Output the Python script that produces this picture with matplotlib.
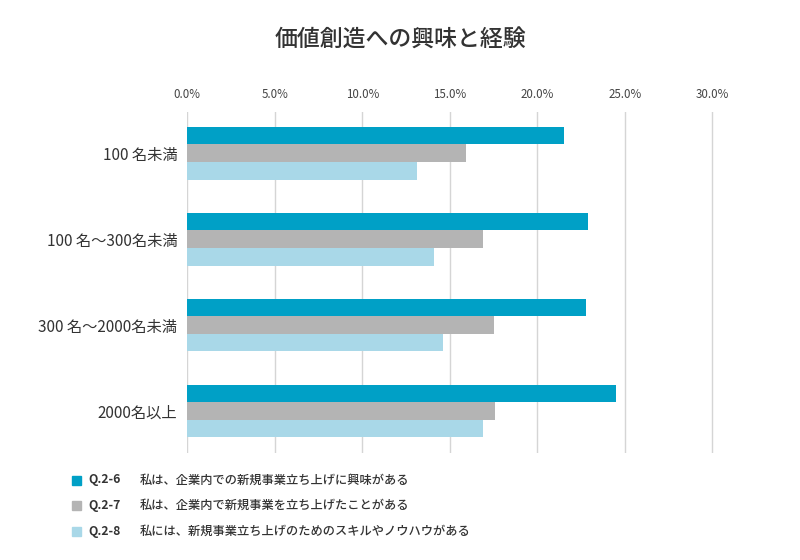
import numpy as np
import matplotlib
matplotlib.use("Agg")
import matplotlib.pyplot as plt
from matplotlib.patches import Rectangle

plt.rcParams['font.family'] = ['Noto Sans CJK JP', 'DejaVu Sans']

# data (%)
categories = ['100 名未満', '100 名～300名未満', '300 名～2000名未満', '2000名以上']
q26 = [21.5, 22.9, 22.8, 24.5]
q27 = [15.9, 16.9, 17.5, 17.6]
q28 = [13.1, 14.1, 14.6, 16.9]
codes = ['Q.2-6', 'Q.2-7', 'Q.2-8']
descriptions = [
    '私は、企業内での新規事業立ち上げに興味がある',
    '私は、企業内で新規事業を立ち上げたことがある',
    '私には、新規事業立ち上げのためのスキルやノウハウがある',
]
colors = ['#00A0C6', '#B4B4B4', '#A9D8E8']
xticks = [0, 5, 10, 15, 20, 25, 30]

fig = plt.figure(figsize=(8, 5.6), dpi=100)
ax = fig.add_axes([0.234, 0.191, 0.661, 0.609])

y = np.arange(len(categories))
h = 0.205
for i, vals in enumerate([q26, q27, q28]):
    ax.barh(y + (i - 1) * h, vals, height=h, color=colors[i], zorder=3)

ax.set_xlim(0, 30.2)
ax.set_ylim(3.49, -0.48)
ax.set_yticks(y)
ax.set_yticklabels(categories, fontsize=11, color='#333333')
ax.set_xticks(xticks)
ax.set_xticklabels([f'{v:.1f}%' for v in xticks], fontsize=8.3, color='#444444')
ax.xaxis.tick_top()
ax.tick_params(axis='both', length=0)
ax.tick_params(axis='x', pad=8)
ax.tick_params(axis='y', pad=7)
ax.grid(axis='x', color='#D5D5D5', linewidth=1, zorder=0)
for s in ax.spines.values():
    s.set_visible(False)

fig.text(0.5, 0.928, '価値創造への興味と経験', ha='center', va='center',
         fontsize=16.5, color='#333333', fontweight='medium')

# legend
for i in range(3):
    yy = 1 - (480 + i * 25.5) / 560
    fig.patches.append(Rectangle((72 / 800, yy - 4.5 / 560), 9 / 800, 9 / 560,
                                 transform=fig.transFigure, color=colors[i]))
    fig.text(88 / 800, yy, codes[i], ha='left', va='center', fontsize=8.8,
             fontweight='bold', color='#333333')
    fig.text(140 / 800, yy, descriptions[i], ha='left', va='center', fontsize=8.8,
             fontweight='medium', color='#333333')

fig.savefig('out.png', dpi=100)
